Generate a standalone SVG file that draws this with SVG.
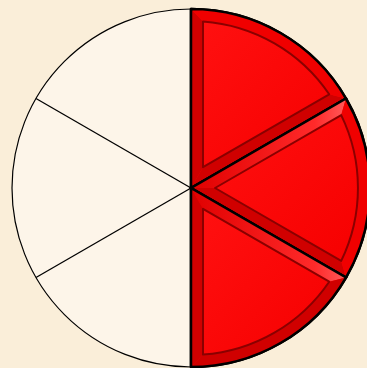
<svg xmlns="http://www.w3.org/2000/svg" width="367" height="368" viewBox="0 0 367 368">
<defs>
<style>
.spoke{stroke:#000;stroke-width:1.3;fill:none}
.outer{fill:#ff0000;stroke:#000;stroke-width:2.5;stroke-linejoin:round}
.inner{fill:url(#face);stroke:#8a0000;stroke-width:2;stroke-linejoin:round}
.dark{fill:#d00000}
.mid{fill:#f00000}
.light{fill:url(#hl)}
</style>
<linearGradient id="face" x1="0" y1="0" x2="1" y2="1">
<stop offset="0" stop-color="#ff1010"/>
<stop offset="1" stop-color="#f60000"/>
</linearGradient>
<linearGradient id="hl" x1="0" y1="0" x2="1" y2="0">
<stop offset="0" stop-color="#e00000"/>
<stop offset="0.8" stop-color="#ff2a2a"/>
<stop offset="1" stop-color="#ff5a5a"/>
</linearGradient>
</defs>
<rect width="367" height="368" fill="#faeed9"/>
<circle cx="191" cy="188" r="179" fill="#fdf5e9" stroke="#000" stroke-width="1.2"/>
<g id="connectors">
<line class="spoke" x1="191" y1="188" x2="36" y2="98.5"/>
<line class="spoke" x1="191" y1="188" x2="36" y2="277.5"/>
</g>
<g id="slice-top">
<path class="outer" d="M191,188 L191,9 A179,179 0 0 1 346,98.5 Z"/>
<polygon class="dark" points="191,188 191,9 203,21.4 203,167.2"/>
<polygon class="dark" points="191,188 203,167.2 329.2,94.3 346,98.5"/>
<path class="mid" d="M191,9 A179,179 0 0 1 346,98.5 L329.2,94.3 A167,167 0 0 0 203,21.4 Z"/>
<path class="inner" d="M203,167.2 L203,21.4 A167,167 0 0 1 329.2,94.3 Z"/>
<path class="outer" style="fill:none" d="M191,188 L191,9 A179,179 0 0 1 346,98.5 Z"/>
</g>
<g id="slice-middle">
<path class="outer" d="M191,188 L346,98.5 A179,179 0 0 1 346,277.5 Z"/>
<polygon class="light" points="191,188 346,98.5 341.2,115.1 215,188"/>
<polygon class="dark" points="191,188 215,188 341.2,260.9 346,277.5"/>
<path class="mid" d="M346,98.5 A179,179 0 0 1 346,277.5 L341.2,260.9 A167,167 0 0 0 341.2,115.1 Z"/>
<path class="inner" d="M215,188 L341.2,115.1 A167,167 0 0 1 341.2,260.9 Z"/>
<path class="outer" style="fill:none" d="M191,188 L346,98.5 A179,179 0 0 1 346,277.5 Z"/>
</g>
<g id="slice-bottom">
<path class="outer" d="M191,188 L346,277.5 A179,179 0 0 1 191,367 Z"/>
<polygon class="light" points="191,188 346,277.5 329.2,281.7 203,208.8"/>
<polygon class="dark" points="191,188 203,208.8 203,354.6 191,367"/>
<path class="dark" d="M346,277.5 A179,179 0 0 1 191,367 L203,354.6 A167,167 0 0 0 329.2,281.7 Z"/>
<path class="inner" d="M203,208.8 L329.2,281.7 A167,167 0 0 1 203,354.6 Z"/>
<path class="outer" style="fill:none" d="M191,188 L346,277.5 A179,179 0 0 1 191,367 Z"/>
</g>
</svg>
